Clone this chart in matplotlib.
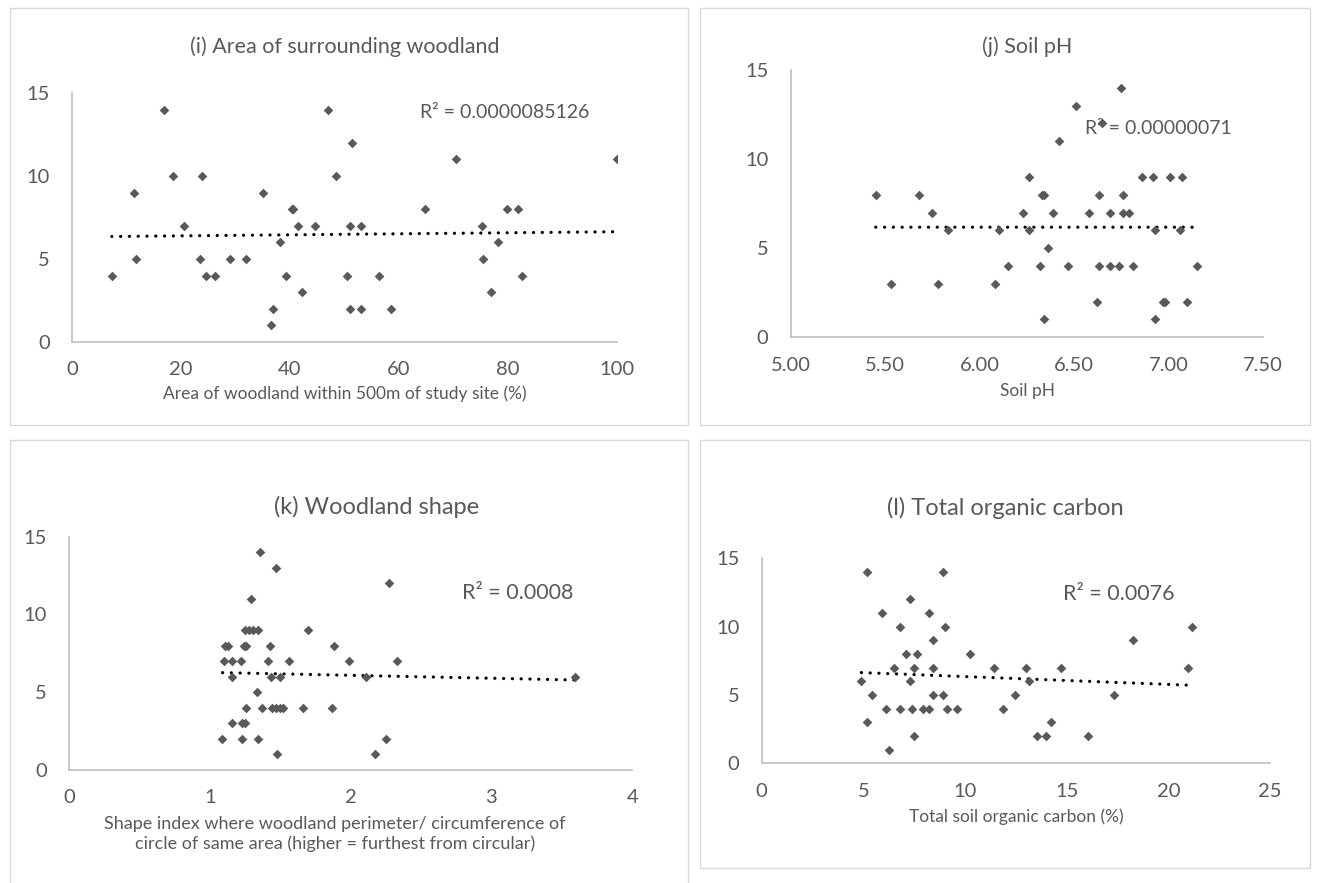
import numpy as np
import matplotlib
matplotlib.use('Agg')
import matplotlib.pyplot as plt
from matplotlib.patches import Rectangle

plt.rcParams['font.family'] = ['Lato', 'DejaVu Sans']

# ---------------- data ----------------
area_x = [7.3, 11.4, 11.8, 16.8, 18.6, 20.6, 23.5, 23.9, 24.5, 26.2, 29.0, 31.9, 35.0, 36.8,
          36.6, 38.2, 39.3, 40.3, 40.6, 41.4, 42.2, 44.6, 47.0, 48.4, 50.5, 51.0, 51.1, 51.3,
          53.0, 53.0, 56.4, 58.5, 64.8, 70.4, 75.3, 75.4, 76.8, 78.2, 79.8, 81.9, 82.6, 100.0]
area_y = [4, 9, 5, 14, 10, 7, 5, 10, 4, 4, 5, 5, 9, 2,
          1, 6, 4, 8, 8, 7, 3, 7, 14, 10, 4, 7, 2, 12,
          7, 2, 4, 2, 8, 11, 7, 5, 3, 6, 8, 8, 4, 11]

ph_x = [5.45, 5.53, 5.68, 5.75, 5.78, 5.83, 6.08, 6.10, 6.15, 6.75, 6.51, 6.65, 6.42, 6.26,
        6.86, 6.92, 7.01, 7.07, 6.33, 6.34, 6.63, 6.76, 6.23, 6.39, 6.58, 6.69, 6.76, 6.79,
        6.26, 6.93, 7.06, 6.36, 6.32, 6.47, 6.63, 6.69, 6.74, 6.81, 7.15, 6.62, 6.97, 6.98,
        7.10, 6.34, 6.93]
ph_y = [8, 3, 8, 7, 3, 6, 3, 6, 4, 14, 13, 12, 11, 9,
        9, 9, 9, 9, 8, 8, 8, 8, 7, 7, 7, 7, 7, 7,
        6, 6, 6, 5, 4, 4, 4, 4, 4, 4, 4, 2, 2, 2,
        2, 1, 1]

shape_x = [1.357, 1.47, 1.29, 1.25, 1.28, 1.31, 1.34, 1.695, 1.11, 1.13, 1.24, 1.26, 1.43, 1.88,
           1.10, 1.16, 1.22, 1.415, 1.565, 1.99, 2.33, 1.16, 1.435, 1.50, 2.11, 3.59, 1.335,
           1.257, 1.37, 1.44, 1.47, 1.50, 1.52, 1.66, 1.865, 1.16, 1.23, 1.25, 1.09, 1.23,
           1.34, 2.25, 1.48, 2.17, 2.27]
shape_y = [14, 13, 11, 9, 9, 9, 9, 9, 8, 8, 8, 8, 8, 8,
           7, 7, 7, 7, 7, 7, 7, 6, 6, 6, 6, 6, 5,
           4, 4, 4, 4, 4, 4, 4, 4, 3, 3, 3, 2, 2,
           2, 2, 1, 1, 12]

toc_x = [5.19, 8.90, 7.29, 5.90, 8.24, 6.82, 9.02, 8.41, 7.08, 7.62, 10.23, 6.49, 7.51, 8.41,
         11.43, 4.90, 7.29, 5.44, 8.41, 8.93, 6.10, 6.82, 7.41, 7.95, 8.21, 9.10, 9.59, 11.88,
         5.16, 7.51, 6.28, 13.00, 14.72, 13.13, 12.46, 14.22, 13.56, 13.98, 16.07, 17.33,
         18.25, 21.15, 20.95]
toc_y = [14, 14, 12, 11, 11, 10, 10, 9, 8, 8, 8, 7, 7, 7,
         7, 6, 6, 5, 5, 5, 4, 4, 4, 4, 4, 4, 4, 4,
         3, 2, 1, 7, 7, 6, 5, 3, 2, 2, 2, 5,
         9, 10, 7]

y_ticks = [0, 5, 10, 15]
area_ticks = [0, 20, 40, 60, 80, 100]
ph_ticks = [5.0, 5.5, 6.0, 6.5, 7.0, 7.5]
shape_ticks = [0, 1, 2, 3, 4]
toc_ticks = [0, 5, 10, 15, 20, 25]

# ---------------- layout ----------------
W, H = 1318, 883
fig = plt.figure(figsize=(W / 100, H / 100), dpi=100)
fig.patch.set_facecolor('white')

def fx(px):
    return px / W

def fy(py):
    return 1 - py / H

def box(x0, y0, x1, y1):
    fig.add_artist(Rectangle((fx(x0), fy(y1)), fx(x1) - fx(x0), fy(y0) - fy(y1),
                             transform=fig.transFigure, fill=False,
                             edgecolor='#d9d9d9', lw=1.0))

box(10, 8, 688, 425)
box(700, 8, 1310, 425)
box(10, 440, 688, 900)
box(700, 440, 1310, 868)

TXT = '#595959'
MK = '#595959'

def panel(rect_px, xs, ys, xlim, xticks, xfmt, title, title_xy, title_fs, r2, r2_xy, r2_fs,
          xlabel, xlabel_xy, xlabel_fs):
    x0, y0, x1, y1 = rect_px
    ax = fig.add_axes([fx(x0), fy(y1), fx(x1) - fx(x0), fy(y0) - fy(y1)])
    ax.scatter(xs, ys, marker='D', s=24, color=MK, linewidths=0, zorder=3)
    c = np.polyfit(xs, ys, 1)
    xl = np.array([min(xs), max(xs)])
    ax.plot(xl, np.polyval(c, xl), color='black', lw=2.3,
            linestyle=(0, (0.05, 2.7)), dash_capstyle='round', zorder=2)
    ax.set_xlim(*xlim)
    ax.set_ylim(0, 15)
    ax.set_xticks(xticks)
    ax.set_xticklabels([xfmt(t) for t in xticks])
    ax.set_yticks(y_ticks)
    for s in ['top', 'right']:
        ax.spines[s].set_visible(False)
    for s in ['left', 'bottom']:
        ax.spines[s].set_color('#bfbfbf')
        ax.spines[s].set_linewidth(1.2)
    ax.tick_params(axis='both', length=0, labelsize=14.5, colors=TXT)
    ax.tick_params(axis='x', pad=14)
    ax.tick_params(axis='y', pad=16)
    ax.set_facecolor('none')
    fig.text(fx(title_xy[0]), fy(title_xy[1]), title, ha='center', va='center',
             fontsize=title_fs, color=TXT)
    fig.text(fx(r2_xy[0]), fy(r2_xy[1]), r2, ha='left', va='center',
             fontsize=r2_fs, color=TXT, zorder=1)
    fig.text(fx(xlabel_xy[0]), fy(xlabel_xy[1]), xlabel, ha='center', va='center',
             fontsize=xlabel_fs, color=TXT, linespacing=1.3)
    return ax

panel((72, 93, 617, 342), area_x, area_y, (0, 100), area_ticks, lambda t: f'{t:.0f}',
      '(i) Area of surrounding woodland', (345, 47), 15.5,
      'R² = 0.0000085126', (420, 112), 14,
      'Area of woodland within 500m of study site (%)', (345, 394), 12.5)

panel((790.7, 70, 1263, 337.3), ph_x, ph_y, (5.0, 7.5), ph_ticks, lambda t: f'{t:.2f}',
      '(j) Soil pH', (1027, 47), 15.5,
      'R² = 0.00000071', (1085, 129), 14,
      'Soil pH', (1027, 391), 12.5)

panel((69, 536.7, 632.3, 770), shape_x, shape_y, (0, 4), shape_ticks, lambda t: f'{t:.0f}',
      '(k) Woodland shape', (377, 507), 17,
      'R² = 0.0008', (462, 593), 15.5,
      'Shape index where woodland perimeter/ circumference of\ncircle of same area (higher = furthest from circular)',
      (335, 834), 13)

panel((761.7, 558.3, 1270, 763.3), toc_x, toc_y, (0, 25), toc_ticks, lambda t: f'{t:.0f}',
      '(l) Total organic carbon', (1005, 508), 17,
      'R² = 0.0076', (1063, 594), 15.5,
      'Total soil organic carbon (%)', (1016, 817), 12.5)

fig.savefig('out.png', dpi=100, facecolor='white')
